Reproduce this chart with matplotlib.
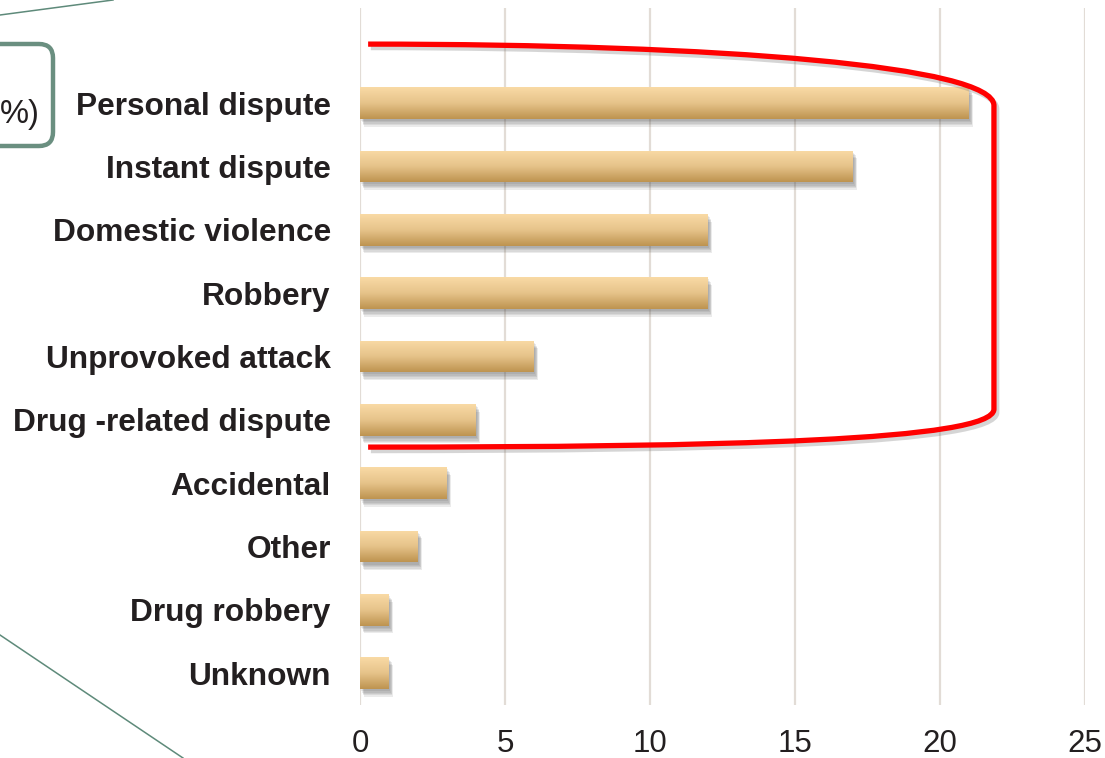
import numpy as np
import matplotlib.pyplot as plt
import matplotlib.patheffects as pe
from matplotlib.patches import FancyBboxPatch, PathPatch
from matplotlib.path import Path
from matplotlib.lines import Line2D
from matplotlib.colors import LinearSegmentedColormap

# Motives for the assault, percentage of cases
motives = ["Personal dispute", "Instant dispute", "Domestic violence", "Robbery",
           "Unprovoked attack", "Drug -related dispute", "Accidental", "Other",
           "Drug robbery", "Unknown"]
percent = [21, 17, 12, 12, 6, 4, 3, 2, 1, 1]
xticks = [0, 5, 10, 15, 20, 25]
n_highlight = 6  # top motives enclosed by the red bracket

plt.rcParams['font.family'] = ['Liberation Sans', 'DejaVu Sans']
text_col = '#231F20'
grid_col = '#E2DCD6'

fig = plt.figure(figsize=(11.05, 7.58), dpi=100)
ax = fig.add_axes([360 / 1105, 1 - 705 / 758, 725 / 1105, 697 / 758])

ypos = np.arange(len(motives))
bar_h = 0.5
# soft drop shadow: a few stacked low-alpha offsets
shadow = [pe.SimplePatchShadow(offset=(dx, dy), shadow_rgbFace='#444444', alpha=0.1)
          for dx, dy in [(1, -1.5), (1.5, -2.5), (2, -3.5), (2.5, -4.5), (3, -5.5)]]
bars = ax.barh(ypos, percent, height=bar_h, color='#DDB57A', zorder=2,
               path_effects=shadow + [pe.Normal()])

# vertical gradient fill on each bar
grad_cmap = LinearSegmentedColormap.from_list('tan', ['#F9DAA5', '#E6C38A', '#BE9450'])
grad = np.linspace(0, 1, 64).reshape(-1, 1)
for b, y, v in zip(bars, ypos, percent):
    im = ax.imshow(grad, cmap=grad_cmap, aspect='auto', origin='upper',
                   extent=[0, v, y + bar_h / 2, y - bar_h / 2], zorder=3,
                   interpolation='bilinear')
    im.set_clip_path(b)

ax.set_xlim(0, 25)
ax.set_ylim(len(motives) - 0.5, -1.5)
ax.set_xticks(xticks)
ax.set_xticklabels([str(t) for t in xticks], fontsize=22.5, color=text_col)
ax.set_yticks(ypos)
ax.set_yticklabels(motives, fontsize=22.8, fontweight='bold', color=text_col)
ax.tick_params(axis='both', length=0)
ax.tick_params(axis='y', pad=21)
ax.tick_params(axis='x', pad=17)
for s in ax.spines.values():
    s.set_visible(False)
ax.grid(axis='x', color=grid_col, linewidth=1.6, zorder=0)
ax.set_axisbelow(True)

# red bracket around the leading motives
x_left = 0.28
x_right = max(percent) + 0.86
y_top = -0.93
y_bot = (n_highlight - 1) + 0.43
verts = [(x_left, y_top), (12.5, y_top), (x_right, y_top + 0.35), (x_right, y_top + 0.97),
         (x_right, y_bot - 0.6),
         (x_right, y_bot - 0.1), (12.5, y_bot), (x_left, y_bot)]
codes = [Path.MOVETO, Path.CURVE4, Path.CURVE4, Path.CURVE4, Path.LINETO,
         Path.CURVE4, Path.CURVE4, Path.CURVE4]
bracket = PathPatch(Path(verts, codes), facecolor='none', edgecolor='#FF0000',
                    linewidth=3.8, capstyle='butt', joinstyle='round', zorder=5, clip_on=False,
                    path_effects=[pe.SimpleLineShadow(offset=(2, -2.5), shadow_color='#777777',
                                                      alpha=0.3), pe.Normal()])
ax.add_patch(bracket)

# callout box and connector lines on the left
inch = fig.dpi_scale_trans
box = FancyBboxPatch((-0.3, 6.12), 0.83, 1.02, boxstyle='round,pad=0,rounding_size=0.14',
                     transform=inch, facecolor='white', edgecolor='#6A8F80', linewidth=3.2)
fig.patches.append(box)
fig.text(0.0, 6.43, '%)', transform=inch, ha='left', va='center', fontsize=23.5,
         color=text_col)
fig.lines.append(Line2D([0, 1.13], [7.43, 7.58], transform=inch, color='#5E8A7A', lw=1.1))
fig.lines.append(Line2D([0, 1.83], [1.23, 0.0], transform=inch, color='#5E8A7A', lw=1.1))

fig.savefig('out.png', dpi=100)
